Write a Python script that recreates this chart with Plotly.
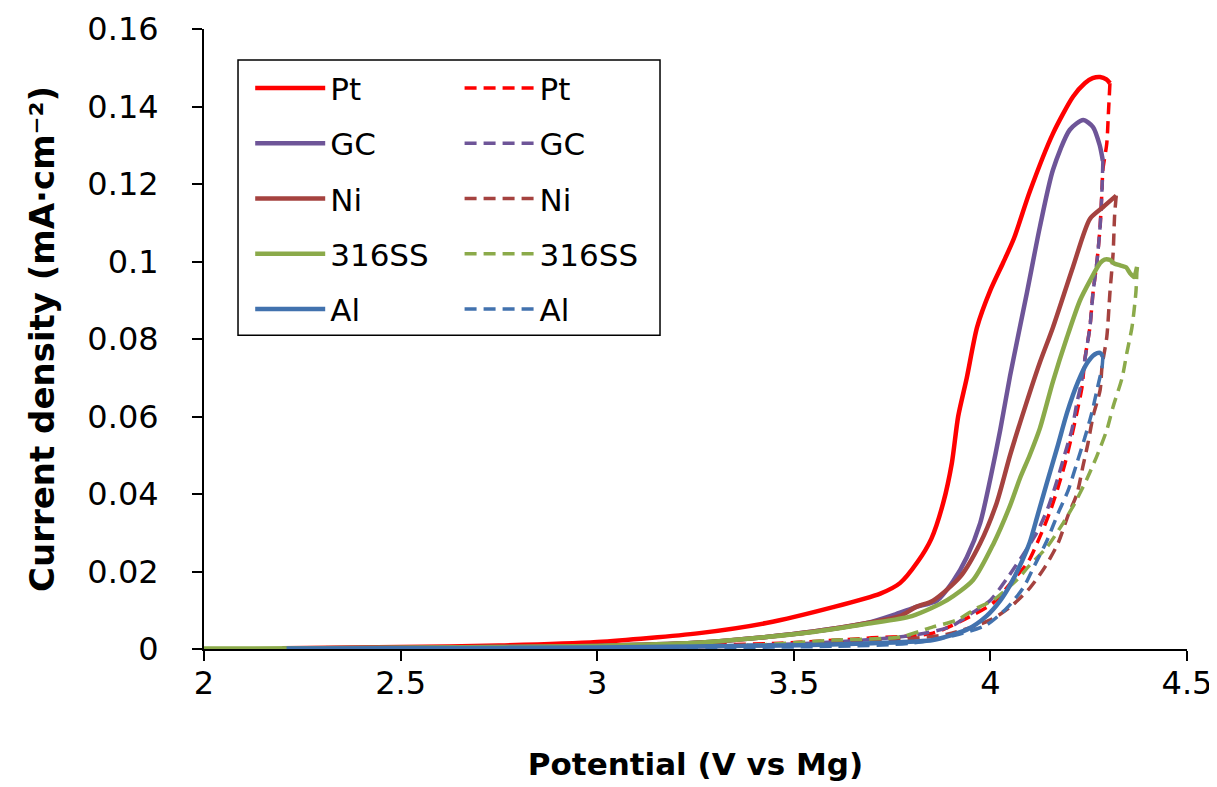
import plotly.graph_objects as go

# ---------------- data ----------------
names = ["Pt", "GC", "Ni", "316SS", "Al"]
colors = ["#FF0000", "#6E5598", "#A5423F", "#8BAA4A", "#4272AE"]

# forward scans (solid)
pt_x = [2.2, 2.5, 2.75, 3.0, 3.26, 3.43, 3.6, 3.72, 3.77, 3.815, 3.85, 3.88, 3.902, 3.918, 3.94, 3.966, 4.0, 4.032, 4.06, 4.10, 4.159, 4.21, 4.24, 4.26, 4.279, 4.295, 4.304]
pt_y = [0.0002, 0.0005, 0.0009, 0.0018, 0.0041, 0.0067, 0.0108, 0.0143, 0.017, 0.0225, 0.0285, 0.0377, 0.048, 0.060, 0.070, 0.083, 0.0926, 0.0996, 0.106, 0.118, 0.133, 0.1425, 0.146, 0.1473, 0.1476, 0.147, 0.146]

gc_x = [2.2, 2.5, 3.0, 3.25, 3.43, 3.55, 3.686, 3.76, 3.81, 3.864, 3.905, 3.94, 3.974, 4.0, 4.025, 4.05, 4.093, 4.126, 4.159, 4.202, 4.236, 4.261, 4.278, 4.286]
gc_y = [0.0001, 0.0003, 0.0008, 0.0016, 0.0031, 0.0045, 0.0067, 0.0090, 0.0108, 0.0125, 0.0175, 0.0237, 0.0325, 0.044, 0.0565, 0.0705, 0.092, 0.109, 0.1236, 0.134, 0.1365, 0.1347, 0.130, 0.126]

ni_x = [2.2, 2.5, 3.0, 3.25, 3.43, 3.55, 3.686, 3.77, 3.81, 3.854, 3.923, 3.974, 4.016, 4.05, 4.09, 4.126, 4.159, 4.21, 4.253, 4.286, 4.32]
ni_y = [0.0001, 0.0003, 0.0008, 0.0016, 0.0031, 0.0045, 0.0067, 0.0085, 0.0108, 0.0125, 0.0186, 0.0273, 0.0377, 0.050, 0.063, 0.074, 0.083, 0.0986, 0.111, 0.114, 0.117]

ss_x = [2.0, 2.5, 3.0, 3.25, 3.43, 3.55, 3.686, 3.80, 3.89, 3.956, 4.007, 4.05, 4.075, 4.10, 4.126, 4.159, 4.195, 4.228, 4.253, 4.279, 4.29, 4.304, 4.315, 4.33, 4.345, 4.355, 4.365, 4.373]
ss_y = [0.0001, 0.0003, 0.0008, 0.0016, 0.0031, 0.0044, 0.0065, 0.0085, 0.0126, 0.0178, 0.027, 0.037, 0.044, 0.050, 0.057, 0.069, 0.0805, 0.090, 0.095, 0.0996, 0.1005, 0.1004, 0.0995, 0.099, 0.0985, 0.097, 0.096, 0.0986]

al_x = [2.21, 2.5, 3.0, 3.516, 3.7, 3.854, 3.94, 3.99, 4.025, 4.05, 4.075, 4.10, 4.12, 4.144, 4.17, 4.195, 4.223, 4.246, 4.265, 4.279, 4.286]
al_y = [0.0001, 0.0002, 0.0004, 0.001, 0.0015, 0.0023, 0.005, 0.0085, 0.0125, 0.0165, 0.0215, 0.0275, 0.0345, 0.043, 0.052, 0.061, 0.069, 0.0738, 0.076, 0.0764, 0.0755]

# reverse scans (dashed)
ptd_x = [4.304, 4.300, 4.296, 4.286, 4.284, 4.279, 4.271, 4.261, 4.253, 4.24, 4.233, 4.22, 4.207, 4.19, 4.17, 4.15, 4.126, 4.096, 4.058, 4.007, 3.956, 3.854, 3.686, 3.465, 3.2, 3.0, 2.6, 2.2]
ptd_y = [0.146, 0.138, 0.1305, 0.1236, 0.119, 0.109, 0.100, 0.092, 0.083, 0.0746, 0.0676, 0.061, 0.055, 0.048, 0.041, 0.035, 0.029, 0.0225, 0.0178, 0.0119, 0.0088, 0.0041, 0.0028, 0.0015, 0.0008, 0.0005, 0.0002, 0.0001]

gcd_x = [4.286, 4.284, 4.279, 4.271, 4.261, 4.253, 4.24, 4.232, 4.22, 4.207, 4.19, 4.17, 4.147, 4.118, 4.045, 4.0, 3.956, 3.897, 3.8, 3.6, 3.4, 3.0, 2.2]
gcd_y = [0.126, 0.119, 0.109, 0.100, 0.092, 0.083, 0.0746, 0.069, 0.0635, 0.0565, 0.0506, 0.0436, 0.0366, 0.030, 0.0186, 0.0126, 0.0095, 0.0057, 0.0035, 0.0018, 0.001, 0.0004, 0.0001]

nid_x = [4.32, 4.316, 4.312, 4.304, 4.296, 4.284, 4.279, 4.261, 4.248, 4.235, 4.22, 4.198, 4.172, 4.139, 4.10, 4.05, 4.0, 3.89, 3.7, 3.4, 3.0, 2.2]
nid_y = [0.117, 0.112, 0.102, 0.092, 0.0805, 0.073, 0.0668, 0.060, 0.053, 0.047, 0.040, 0.0346, 0.0273, 0.0212, 0.0157, 0.0108, 0.0075, 0.0038, 0.002, 0.0008, 0.0004, 0.0001]

ssd_x = [4.373, 4.37, 4.36, 4.347, 4.335, 4.312, 4.296, 4.27, 4.246, 4.215, 4.185, 4.144, 4.096, 4.075, 4.007, 3.966, 3.915, 3.854, 3.77, 3.6, 3.4, 3.0, 2.2]
ssd_y = [0.0986, 0.092, 0.083, 0.0764, 0.070, 0.0625, 0.0565, 0.0496, 0.044, 0.0377, 0.0325, 0.0263, 0.0212, 0.0186, 0.0126, 0.0106, 0.0075, 0.0057, 0.0031, 0.0023, 0.001, 0.0004, 0.0001]

ald_x = [4.286, 4.284, 4.271, 4.258, 4.24, 4.22, 4.198, 4.172, 4.144, 4.113, 4.083, 4.042, 3.99, 3.92, 3.80, 3.6, 3.2, 2.2]
ald_y = [0.0755, 0.0728, 0.0668, 0.061, 0.0545, 0.048, 0.041, 0.035, 0.028, 0.0217, 0.0157, 0.0106, 0.0062, 0.0038, 0.0015, 0.0007, 0.0003, 0.0001]

solid = [(pt_x, pt_y), (gc_x, gc_y), (ni_x, ni_y), (ss_x, ss_y), (al_x, al_y)]
dashed = [(ptd_x, ptd_y), (gcd_x, gcd_y), (nid_x, nid_y), (ssd_x, ssd_y), (ald_x, ald_y)]

x_ticks = [2, 2.5, 3, 3.5, 4, 4.5]
y_ticks = [0, 0.02, 0.04, 0.06, 0.08, 0.1, 0.12, 0.14, 0.16]
y_tick_text = ["0", "0.02", "0.04", "0.06", "0.08", "0.1", "0.12", "0.14", "0.16"]

FONT = "DejaVu Sans"

fig = go.Figure()
for i, (name, col) in enumerate(zip(names, colors)):
    x, y = dashed[i]
    fig.add_trace(go.Scatter(x=x, y=y, mode="lines", name=name,
                             line=dict(color=col, width=3.5, dash="12px,7px", shape="spline", smoothing=0.7),
                             legend="legend2", legendgroup="d" + name))
for i, (name, col) in enumerate(zip(names, colors)):
    x, y = solid[i]
    fig.add_trace(go.Scatter(x=x, y=y, mode="lines", name=name,
                             line=dict(color=col, width=4.5, shape="spline", smoothing=0.7),
                             legend="legend", legendgroup="s" + name))

legend_common = dict(font=dict(family=FONT, size=31, color="black"),
                     bgcolor="rgba(0,0,0,0)", borderwidth=0,
                     traceorder="grouped", tracegroupgap=12,
                     itemwidth=70, yanchor="top", xanchor="left", y=0.948)

# the page body adds an 8 px offset, so the figure is 8 px smaller than the window
fig.update_layout(
    width=1209, height=779,
    margin=dict(l=196, r=30, t=21, b=138),
    paper_bgcolor="white", plot_bgcolor="white",
    font=dict(family=FONT, size=31, color="black"),
    showlegend=True,
    legend=dict(x=0.047, **legend_common),
    legend2=dict(x=0.260, **legend_common),
    xaxis=dict(range=[2, 4.5], tickvals=x_ticks, ticktext=[str(v) for v in x_ticks],
               automargin=False,
               showgrid=False, zeroline=False, showline=True, linecolor="black", linewidth=2,
               ticks="outside", ticklen=10, tickwidth=2, tickcolor="black",
               tickfont=dict(family=FONT, size=32), ticklabelstandoff=-5,
               title=dict(text="<b>Potential (V vs Mg)</b>", font=dict(family=FONT, size=31), standoff=52)),
    yaxis=dict(range=[0, 0.16], tickvals=y_ticks, ticktext=y_tick_text,
               automargin=False,
               showgrid=False, zeroline=False, showline=True, linecolor="black", linewidth=2,
               ticks="outside", ticklen=10, tickwidth=2, tickcolor="black",
               tickfont=dict(family=FONT, size=32), ticklabelstandoff=27,
               title=dict(text="<b>Current density (mA·cm⁻²)</b>", font=dict(family=FONT, size=34), standoff=22)),
    shapes=[dict(type="rect", xref="paper", yref="paper", x0=0.0346, x1=0.4639, y0=0.506, y1=0.95,
                 line=dict(color="black", width=1.5), fillcolor="rgba(0,0,0,0)", layer="above")],
)

fig.write_html("out.html")
